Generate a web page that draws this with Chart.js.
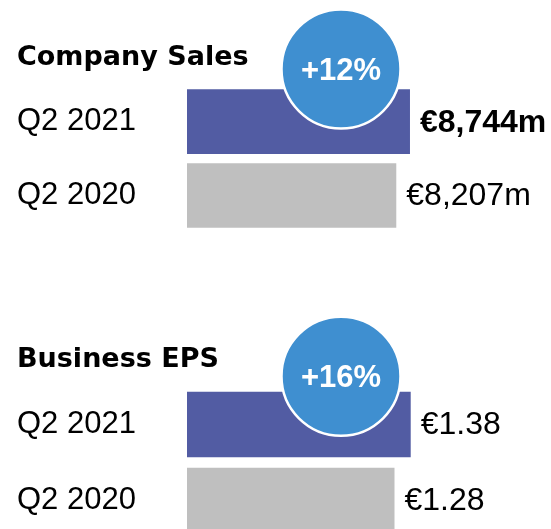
<!DOCTYPE html>
<html>
<head>
<meta charset="utf-8">
<script src="https://cdn.jsdelivr.net/npm/chart.js@4.4.0/dist/chart.umd.min.js"></script>
<style>
  html, body { margin: 0; padding: 0; background: #fff; overflow: hidden; }
  #wrap { position: relative; width: 551px; height: 529px; overflow: hidden; }
  canvas { position: absolute; left: 0; }
</style>
</head>
<body>
<div id="wrap">
  <canvas id="sales_chart" width="551" height="260" style="top:0"></canvas>
  <canvas id="eps_chart" width="551" height="290" style="top:260px"></canvas>
</div>
<script>
// data
var period_labels = ["Q2 2021", "Q2 2020"];
var sales_values = [8744, 8207];
var eps_values = [1.38, 1.28];
var sales_growth = "+12%";
var eps_growth = "+16%";
var bar_colors = ["#525ca3", "#bfbfbf"];

Chart.defaults.font.family = "'Liberation Sans', Arial, sans-serif";

function formatSales(v) {
  return "€" + v.toLocaleString("en-US") + "m";
}
function formatEps(v) {
  return "€" + v.toFixed(2);
}

function buildChart(canvasId, cfg) {
  // draws the growth bubble and the value labels next to the bars
  var badgePlugin = {
    id: "badge",
    afterDatasetsDraw: function (chart) {
      var ctx = chart.ctx;
      var meta = chart.getDatasetMeta(0);
      var data = chart.data.datasets[0].data;
      var first = meta.data[0];
      var cx = chart.chartArea.left + 154;
      var cy = first.y - first.height / 2 - cfg.badgeRise;

      ctx.save();
      ctx.beginPath();
      ctx.arc(cx, cy, 59.5, 0, Math.PI * 2);
      ctx.fillStyle = "#3f8fd0";
      ctx.fill();
      ctx.lineWidth = 2.5;
      ctx.strokeStyle = "#ffffff";
      ctx.stroke();

      ctx.fillStyle = "#ffffff";
      ctx.font = "bold 31px 'Liberation Sans', Arial, sans-serif";
      ctx.textAlign = "center";
      ctx.textBaseline = "middle";
      ctx.fillText(cfg.growth, cx, cy + 2);

      ctx.fillStyle = "#000000";
      ctx.textAlign = "left";
      meta.data.forEach(function (bar, i) {
        ctx.font = (i === cfg.boldIndex ? "bold " : "") + "32px 'Liberation Sans', Arial, sans-serif";
        ctx.fillText(cfg.format(data[i]), bar.x + 10, bar.y + 1);
      });
      ctx.restore();
    },
  };

  return new Chart(document.getElementById(canvasId), {
    type: "bar",
    data: {
      labels: period_labels,
      datasets: [
        {
          data: cfg.values,
          backgroundColor: bar_colors,
          borderWidth: 0,
          categoryPercentage: 1,
          barPercentage: cfg.barPct,
        },
      ],
    },
    options: {
      indexAxis: "y",
      responsive: false,
      animation: false,
      layout: {
        padding: { left: 17, right: 20, top: 0, bottom: cfg.padBottom },
      },
      scales: {
        x: { display: false, min: 0, max: cfg.xMax },
        y: {
          grid: { display: false },
          border: { display: false },
          ticks: {
            crossAlign: "far",
            color: "#000",
            font: { size: 31 },
          },
          afterFit: function (scale) {
            scale.width = 170;
            // labels sit inside the bands, no extra room needed above/below
            scale.paddingTop = 0;
            scale.paddingBottom = 0;
          },
        },
      },
      plugins: {
        legend: { display: false },
        tooltip: { enabled: false },
        title: {
          display: true,
          text: cfg.title,
          align: "start",
          color: "#000",
          font: { family: "'DejaVu Sans', sans-serif", size: 27, weight: "bold" },
          padding: { top: cfg.titleTop, bottom: cfg.titleBottom },
        },
      },
    },
    plugins: [badgePlugin],
  });
}

var sales_chart = buildChart("sales_chart", {
  title: "Company Sales",
  values: sales_values,
  growth: sales_growth,
  format: formatSales,
  boldIndex: 0,
  xMax: 13490,
  barPct: 0.877,
  padBottom: 27.6,
  titleTop: 41.5,
  titleBottom: 10.9,
  badgeRise: 20.3,
});

var eps_chart = buildChart("eps_chart", {
  title: "Business EPS",
  values: eps_values,
  growth: eps_growth,
  format: formatEps,
  boldIndex: -1,
  xMax: 2.122,
  barPct: 0.863,
  padBottom: 11.5,
  titleTop: 84,
  titleBottom: 10.1,
  badgeRise: 15.4,
});
</script>
</body>
</html>
